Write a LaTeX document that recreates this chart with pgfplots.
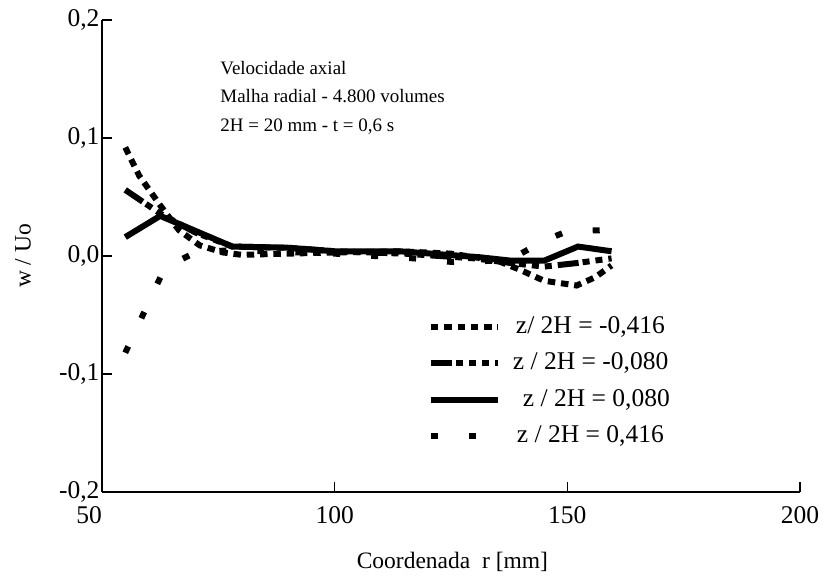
\documentclass[border=0pt]{standalone}
\usepackage{pgfplots}
\pgfplotsset{compat=1.18}
\usepackage{fontspec}
\setmainfont{Liberation Serif}
\newcommand{\ff}{\fontsize{19bp}{23bp}\selectfont}
\newcommand{\fb}{\fontsize{25.5bp}{30bp}\selectfont}
\newcommand{\fl}{\fontsize{23.5bp}{28bp}\selectfont}
\begin{document}
\begin{tikzpicture}[font=\ff]
\useasboundingbox (0,0) rectangle (824bp,576bp);
\begin{axis}[
  at={(102bp,84bp)}, anchor=south west,
  width=698bp, height=472bp, scale only axis,
  xmin=50, xmax=200, ymin=-0.2, ymax=0.2,
  axis x line=bottom, axis y line=left,
  axis line style={-, line width=1.5bp, black},
  tick align=inside, major tick length=10bp,
  tick style={line width=1.5bp, black},
  xtick={50,100,150,200},
  xticklabels={{\makebox[0pt]{\hspace*{-26bp}50}},100,150,200},
  ytick={-0.2,-0.1,0,0.1,0.2},
  yticklabels={{-0,2},{-0,1},{0,0},{0,1},{0,2}},
  ticklabel style={font=\fb},
  xticklabel style={yshift=-11bp},
  yticklabel style={xshift=1bp},
  xlabel={Coordenada\ \ r [mm]},
  ylabel={w / Uo},
  xlabel style={at={(rel axis cs:0.502,-0.1483)}, anchor=center, font=\fl},
  ylabel style={at={(rel axis cs:-0.1132,0.5)}, anchor=center, font=\fl},
  clip=false,
  legend cell align=left,
  legend image code/.code={\draw[#1] (0bp,0bp) -- (67bp,0bp);},
  legend style={draw=none, fill=none, inner sep=0pt, outer sep=0pt,
    at={(rel axis cs:0.467,0.374)}, anchor=north west,
    font=\fb, row sep=13.3bp, column sep=12bp,
    nodes={inner sep=0pt, text height=18bp, text depth=5bp}},
]
% z/2H = -0.416
\addplot[black, line width=6bp, line cap=butt, mark=none, dash pattern=on 7.5bp off 5.8bp] coordinates {
 (55,0.092) (58,0.068) (62.5,0.043) (66.5,0.022) (71,0.009) (76,0.003)
 (80,0.001) (90,0.002) (100,0.003) (114,0.004) (125,0.002) (135,-0.004)
 (140,-0.012) (145,-0.021) (152,-0.025) (156,-0.018) (159.5,-0.008)};
\addlegendentry{\hspace{3bp}z/ 2H = -0,416}
% z/2H = -0.080
\addplot[black, line width=6bp, line cap=butt, mark=none, dash pattern=on 21bp off 4bp on 7bp off 6bp on 7bp off 6bp on 7bp off 6bp] coordinates {
 (55,0.056) (62.5,0.036) (70,0.02) (78,0.008) (90,0.007) (100,0.004)
 (115,0.002) (130,-0.002) (138,-0.006) (145,-0.009) (152,-0.006) (159.5,-0.002)};
\addlegendentry{z / 2H = -0,080}
% z/2H = 0.080
\addplot[black, line width=6bp, line cap=butt, mark=none, solid] coordinates {
 (55,0.016) (62.5,0.034) (78,0.008) (90,0.007) (100,0.004) (114,0.004)
 (131,-0.001) (138,-0.004) (145,-0.004) (152.3,0.008) (159.5,0.004)};
\addlegendentry{\hspace{10bp}z / 2H = 0,080}
% z/2H = 0.416
\addplot[black, line width=6bp, line cap=butt, mark=none, dash pattern=on 7bp off 31bp] coordinates {
 (55,-0.082) (63.5,-0.01) (70,0.003) (78,0.005) (100,0.002) (117,-0.002)
 (125,-0.005) (135,-0.004) (140,0.002) (145,0.013) (150,0.021) (159,0.022)};
\addlegendentry{\hspace{4bp}z / 2H = 0,416}
\node[anchor=base west, inner sep=0pt] at (axis cs:75.4,0.1534) {Velocidade axial};
\node[anchor=base west, inner sep=0pt] at (axis cs:75.4,0.1297) {Malha radial - 4.800 volumes};
\node[anchor=base west, inner sep=0pt] at (axis cs:75.4,0.1059) {2H = 20 mm - t = 0,6 s};
\end{axis}
\end{tikzpicture}
\end{document}
